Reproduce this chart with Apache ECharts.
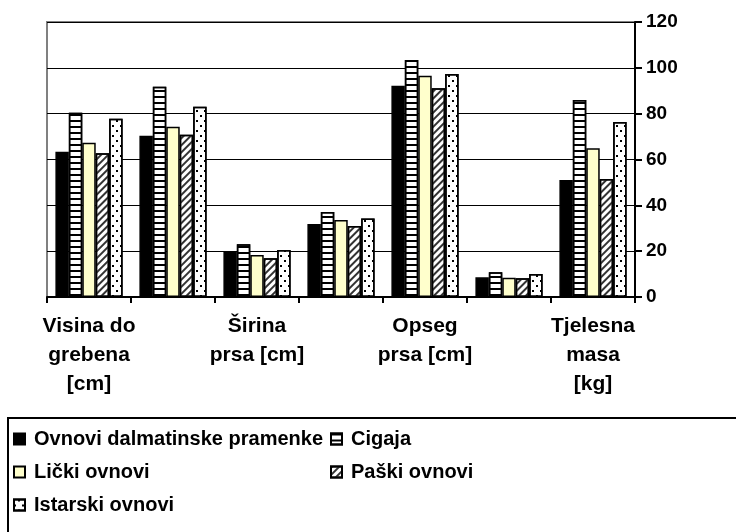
<!DOCTYPE html>
<html>
<head>
<meta charset="utf-8">
<script src="https://cdn.jsdelivr.net/npm/echarts@6/dist/echarts.min.js"></script>
<style>html,body{margin:0;padding:0;background:#fff;}#c{width:736px;height:532px;}</style>
</head>
<body>
<div id="c"></div>
<script>
const categories = ['Visina do\ngrebena\n[cm]', 'Dužina\ntrupa [cm]', 'Širina\nprsa [cm]', 'Dubina\nprsa [cm]', 'Opseg\nprsa [cm]', 'Opseg\ncjevanice [cm]', 'Tjelesna\nmasa\n[kg]'];
const seriesNames = ['Ovnovi dalmatinske pramenke', 'Cigaja', 'Lički ovnovi', 'Paški ovnovi', 'Istarski ovnovi'];
const dalmatinske = [63.4, 70.4, 19.8, 31.9, 92.2, 8.6, 51.1];
const cigaja = [80.4, 91.8, 23.0, 37.1, 103.4, 10.8, 86.0];
const licki = [67.3, 74.3, 18.3, 33.6, 96.5, 8.4, 64.9];
const paski = [62.7, 70.8, 16.9, 31.0, 91.1, 8.2, 51.5];
const istarski = [77.8, 83.0, 20.5, 34.3, 97.3, 10.0, 76.4];
const yTicks = {min: 0, max: 120, interval: 20};

const FONT = '"Liberation Sans", Arial, sans-serif';
const values = [dalmatinske, cigaja, licki, paski, istarski];
const styles = [
  {color: '#000000'},
  {color: '#ffffff', decal: {symbol: 'rect', symbolSize: 1, color: '#000', dashArrayX: [1, 0], dashArrayY: [1.5, 4], rotation: 0}},
  {color: '#ffffcc'},
  {color: '#ffffff', decal: {symbol: 'rect', symbolSize: 1, color: '#333', dashArrayX: [1, 0], dashArrayY: [1.2, 3], rotation: -Math.PI / 4}},
  {color: '#ffffff', decal: {symbol: 'rect', symbolSize: 1, color: '#000', dashArrayX: [[1.5, 5.5], [0, 3.5, 1.5, 2]], dashArrayY: [1.5, 2.5], rotation: 0}}
];

const series = seriesNames.map((n, i) => ({
  name: n,
  type: 'bar',
  data: values[i],
  barGap: '0%',
  barCategoryGap: '20%',
  itemStyle: Object.assign({borderColor: '#000', borderWidth: 1.5}, styles[i]),
  emphasis: {disabled: true},
  animation: false
}));

const legendPos = [
  {left: 13, top: 429},
  {left: 330, top: 429},
  {left: 13, top: 462},
  {left: 330, top: 462},
  {left: 13, top: 495}
];
const legends = seriesNames.map((n, i) => ({
  data: [n],
  left: legendPos[i].left,
  top: legendPos[i].top,
  orient: 'horizontal',
  itemWidth: 11,
  itemHeight: 11,
  itemGap: 0,
  padding: 0,
  selectedMode: false,
  icon: 'rect',
  textStyle: {fontFamily: FONT, fontWeight: 'bold', fontSize: 20, color: '#000', padding: [0, 0, 0, 4]}
}));

const chart = echarts.init(document.getElementById('c'), null, {renderer: 'canvas'});
chart.setOption({
  backgroundColor: '#fff',
  animation: false,
  grid: {left: 47, right: 101, top: 22, bottom: 235, show: true, borderColor: '#808080', borderWidth: 2, backgroundColor: 'transparent'},
  legend: legends,
  xAxis: {
    type: 'category',
    data: categories,
    axisLine: {show: true, lineStyle: {color: '#000', width: 2}},
    axisTick: {show: true, interval: 0, length: 6, lineStyle: {color: '#000', width: 2}},
    axisLabel: {interval: 1, margin: 15, fontFamily: FONT, fontWeight: 'bold', fontSize: 21, color: '#000', lineHeight: 29}
  },
  yAxis: {
    type: 'value',
    position: 'right',
    min: yTicks.min, max: yTicks.max, interval: yTicks.interval,
    axisLine: {show: true, lineStyle: {color: '#000', width: 2}},
    axisTick: {show: true, length: 7, lineStyle: {color: '#000', width: 2}},
    splitLine: {show: true, lineStyle: {color: '#000', width: 1}},
    axisLabel: {margin: 11, fontFamily: FONT, fontWeight: 'bold', fontSize: 19, color: '#000'}
  },
  graphic: [{
    type: 'rect',
    shape: {x: 8, y: 418, width: 740, height: 130},
    style: {fill: 'none', stroke: '#000', lineWidth: 2},
    silent: true,
    z: -1
  }],
  series: series
});
</script>
</body>
</html>
